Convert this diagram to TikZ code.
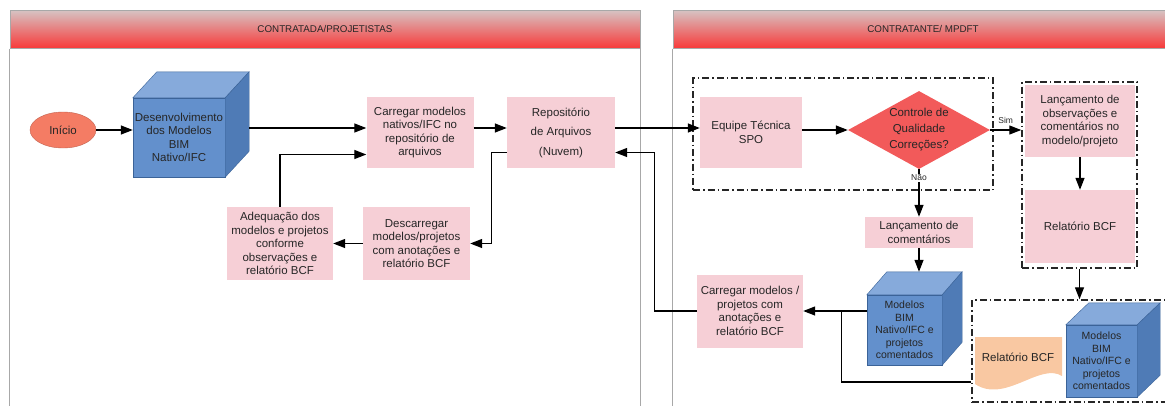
\documentclass[tikz,border=0pt]{standalone}
\usepackage{fontspec}
\setmainfont{Liberation Sans}
\usetikzlibrary{arrows.meta,shapes.geometric,positioning}

\definecolor{boxpink}{HTML}{F6CFD6}
\definecolor{cubefront}{HTML}{6390CC}
\definecolor{cubetop}{HTML}{86AADB}
\definecolor{cubeside}{HTML}{4F7BB6}
\definecolor{cubeedge}{HTML}{3B6398}
\definecolor{hdtop}{HTML}{D6C4C4}
\definecolor{hdbot}{HTML}{F83A3A}
\definecolor{lanegray}{HTML}{A8A8A8}
\definecolor{startfill}{HTML}{F47C64}
\definecolor{decfill}{HTML}{F25A5A}
\definecolor{docfill}{HTML}{F9C8A2}
\definecolor{txt}{HTML}{262626}

\tikzset{
  flow/.style={line width=1.3pt,-{Triangle[length=12pt,width=9pt]}},
  link/.style={line width=1.3pt},
  pinkbox/.style={fill=boxpink,align=center,inner sep=1pt},
  cubebox/.style={fill=cubefront,draw=cubeedge,align=center,inner sep=1pt},
  startnode/.style={ellipse,fill=startfill,draw=startfill!80!black,minimum width=66,minimum height=36,inner sep=0pt},
  decisao/.style={diamond,fill=decfill,aspect=1.8,minimum width=142,minimum height=78,inner sep=0pt,align=center,font=\fontsize{11.5}{16}\selectfont},
  grupo/.style={draw=black!85,line width=1.5pt,dash pattern=on 7pt off 3pt on 1.5pt off 3pt},
  lanehead/.style={draw=lanegray,line width=1pt,top color=hdtop,bottom color=hdbot,minimum height=38,font=\fontsize{9.8}{11}\selectfont},
  lane/.style={draw=lanegray,line width=1.8pt},
  small/.style={font=\fontsize{8.5}{10}\selectfont,inner sep=1pt},
}

% cube faces behind a front node: name, dx, dy (up)
\newcommand{\cubo}[3]{%
  \draw[cubeedge,fill=cubetop] (#1.north west) -- ++(#2,-#3) -- ([shift={(#2,-#3)}]#1.north east) -- (#1.north east) -- cycle;
  \draw[cubeedge,fill=cubeside] (#1.north east) -- ++(#2,-#3) -- ([shift={(#2,-#3)}]#1.south east) -- (#1.south east) -- cycle;
  \coordinate (#1top) at ([shift={(#2,-#3)}]#1.north);}

\begin{document}
\begin{tikzpicture}[x=1pt,y=-1pt,font=\fontsize{11.5}{13.5}\selectfont,text=txt]
\useasboundingbox (0,0) rectangle (1165,405);

% lanes
\node[lanehead,minimum width=630] (headA) at (325,29) {CONTRATADA/PROJETISTAS};
\node[lanehead,minimum width=500] (headB) at (923,29) {CONTRATANTE/ MPDFT};
\draw[lane] (headA.south west) -- ++(0,370);
\draw[lane] (headA.south east) -- ++(0,370);
\draw[lane] (headB.south west) -- ++(0,370);

% contratada
\node[startnode] (inicio) at (63,130) {Início};
\node[cubebox,minimum width=92,minimum height=79] (desenv) at (179,137.5) {Desenvolvimento\\dos Modelos\\BIM\\Nativo/IFC};
\cubo{desenv}{24}{26}
\node[pinkbox,minimum width=107,minimum height=71] (carrega) at (420,132.5) {Carregar modelos\\nativos/IFC no\\repositório de\\arquivos};
\node[pinkbox,minimum width=108,minimum height=71] (repos) at (561,132.5) {Repositório\\[6pt]de Arquivos\\[6pt](Nuvem)};
\node[pinkbox,minimum width=107,minimum height=73] (descarrega) at (416.5,243.5) {Descarregar\\modelos/projetos\\com anotações e\\relatório BCF};
\node[pinkbox,minimum width=106,minimum height=73] (adequa) at (280,243.5) {Adequação dos\\modelos e projetos\\conforme\\observações e\\relatório BCF};
\coordinate (entrada) at ([yshift=4.5pt]carrega.west);

% contratante
\node[grupo,minimum width=300,minimum height=112] (grupoA) at (843,134) {};
\node[pinkbox,minimum width=102,minimum height=71] (equipe) at (751,132.5) {Equipe Técnica\\SPO};
\node[decisao] (controle) at (919,130) {Controle de\\Qualidade\\Correções?};
\node[pinkbox,minimum width=108,minimum height=31] (lanccom) at (919,232.5) {Lançamento de\\comentários};
\node[cubebox,minimum width=75,minimum height=70,font=\fontsize{10.5}{12.5}\selectfont] (modelos) at (904.5,330) {Modelos\\BIM\\Nativo/IFC e\\projetos\\comentados};
\cubo{modelos}{20}{23}
\node[pinkbox,minimum width=106,minimum height=73] (carrega2) at (750,311) {Carregar modelos /\\projetos com\\anotações e\\relatório BCF};

\node[grupo,minimum width=115,minimum height=186] (grupoB) at (1079.5,175) {};
\node[pinkbox,minimum width=110,minimum height=72] (lancobs) at (1080,121) {Lançamento de\\observações e\\comentários no\\modelo/projeto};
\node[pinkbox,minimum width=110,minimum height=73] (relbcf) at (1080,226.5) {Relatório BCF};

\node[grupo,minimum width=210,minimum height=102] (grupoC) at (1077,351) {};
\fill[docfill] (975,337) -- (1062,337) -- (1062,376) .. controls (1040,362) and (1005,404) .. (975,384) -- cycle;
\node (docbcf) at (1018,357) {Relatório BCF};
\node[cubebox,minimum width=71,minimum height=72,font=\fontsize{10.5}{12.5}\selectfont] (modelos3) at (1101.5,361) {Modelos\\BIM\\Nativo/IFC e\\projetos\\comentados};
\cubo{modelos3}{23}{22}

% connectors
\draw[flow] (inicio.east) -- (inicio.east -| desenv.west);
\draw[flow] ([xshift=24pt]desenv.east |- entrada) -- (entrada);
\draw[flow] (adequa.north) |- ([yshift=-22pt]carrega.west);
\draw[flow] ([yshift=4.5pt]carrega.east) -- ([yshift=4.5pt]repos.west);
\draw[flow] ([yshift=4.5pt]repos.east) -- ([yshift=4.5pt]equipe.west);
\draw[flow] ([yshift=-20pt]repos.west) -- ++(-15,0) |- (descarrega.east);
\draw[flow] (descarrega.west) -- (adequa.east);
\draw[flow] (carrega2.west) -- ++(-42,0) |- ([yshift=-20pt]repos.east);
\draw[flow] (controle.west -| equipe.east) -- (controle.west);
\draw[flow] (controle.south) -- node[pos=0.18,fill=white,small]{Não} (controle.south |- lanccom.north);
\draw[flow] (lanccom.south) -- (lanccom.south |- modelostop);
\draw[flow] (modelos.west |- carrega2.east) -- (carrega2.east);
\draw[link] ([yshift=-31pt]grupoC.west) -| ([xshift=-25pt]modelos.west |- carrega2.east);
\draw[flow] (controle.east) -- node[above=5pt,small]{Sim} (controle.east -| grupoB.west);
\draw[flow] (lancobs.south) -- (relbcf.north);
\draw[flow] (grupoB.south) -- (grupoB.south |- grupoC.north);

\end{tikzpicture}
\end{document}
